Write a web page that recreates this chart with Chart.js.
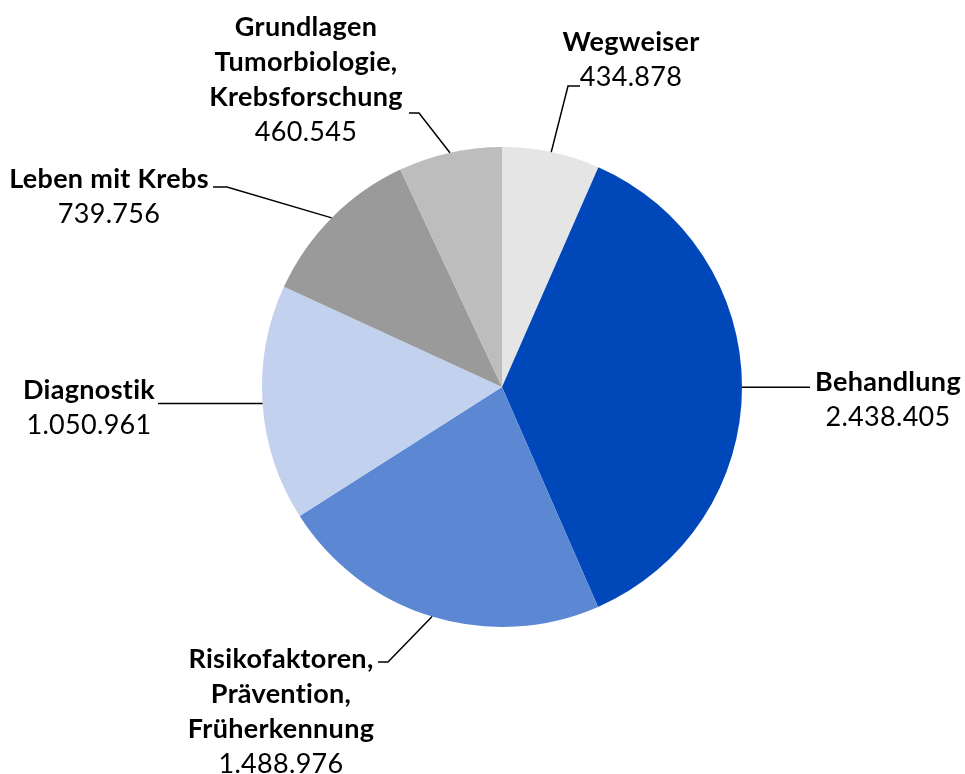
<!DOCTYPE html>
<html>
<head>
<meta charset="utf-8">
<script src="https://cdn.jsdelivr.net/npm/chart.js@4"></script>
<style>
  html, body { margin: 0; padding: 0; background: #fff; }
  #wrap { width: 965px; height: 774px; }
</style>
</head>
<body>
<div id="wrap"><canvas id="myChart" width="965" height="774"></canvas></div>
<script>
// data
const categories = ["Wegweiser", "Behandlung", "Risikofaktoren, Prävention, Früherkennung", "Diagnostik", "Leben mit Krebs", "Grundlagen Tumorbiologie, Krebsforschung"];
const nameLines = [["Wegweiser"], ["Behandlung"], ["Risikofaktoren,", "Prävention,", "Früherkennung"], ["Diagnostik"], ["Leben mit Krebs"], ["Grundlagen", "Tumorbiologie,", "Krebsforschung"]];
const values = [434878, 2438405, 1488976, 1050961, 739756, 460545];
const colors = ["#e5e5e5", "#0047ba", "#5b87d3", "#c1d1ee", "#9a9a9a", "#bdbdbd"];

// label placement (text centre x, first baseline y, leader elbow and end)
const labelPos = [
    { x: 631, y: 51, elbow: [568, 86], end: [580, 86] },
    { x: 888, y: 391, elbow: null, end: [810, 387] },
    { x: 281, y: 668, elbow: [388, 662], end: [378, 662] },
    { x: 89, y: 399, elbow: null, end: [158, 404] },
    { x: 109, y: 188, elbow: [227, 187], end: [213, 187] },
    { x: 306, y: 36, elbow: [419, 113], end: [409, 113] }
];

const fontFamily = "Lato, 'Liberation Sans', sans-serif";
const lineGap = 35;

function fmt(v) {
    return v.toString().replace(/\B(?=(\d{3})+(?!\d))/g, ".");
}

const leaderLabels = {
    id: "leaderLabels",
    afterDraw(chart) {
        const ctx = chart.ctx;
        const arcs = chart.getDatasetMeta(0).data;
        ctx.save();
        arcs.forEach((arc, i) => {
            const p = labelPos[i];
            const mid = (arc.startAngle + arc.endAngle) / 2;
            const sx = arc.x + Math.cos(mid) * arc.outerRadius;
            const sy = arc.y + Math.sin(mid) * arc.outerRadius;
            ctx.strokeStyle = "#000";
            ctx.lineWidth = 1.5;
            ctx.beginPath();
            ctx.moveTo(sx, sy);
            if (p.elbow) ctx.lineTo(p.elbow[0], p.elbow[1]);
            else ctx.lineTo(p.end[0], sy);
            if (p.elbow) ctx.lineTo(p.end[0], p.end[1]);
            ctx.stroke();

            ctx.fillStyle = "#000";
            ctx.textAlign = "center";
            ctx.textBaseline = "alphabetic";
            ctx.letterSpacing = "0.3px";
            let y = p.y;
            ctx.font = "bold 27px " + fontFamily;
            nameLines[i].forEach(line => {
                ctx.fillText(line, p.x, y);
                y += lineGap;
            });
            ctx.font = "27px " + fontFamily;
            ctx.fillText(fmt(values[i]), p.x, y);
        });
        ctx.restore();
    }
};

let ctx = document.getElementById("myChart").getContext("2d");
let myChart = new Chart(ctx, {
    type: "pie",
    data: {
        labels: categories,
        datasets: [{
            data: values,
            backgroundColor: colors,
            borderWidth: 0
        }]
    },
    options: {
        responsive: false,
        animation: false,
        layout: { padding: { top: 147, bottom: 147, left: 39, right: 0 } },
        plugins: {
            legend: { display: false },
            tooltip: { enabled: false }
        }
    },
    plugins: [leaderLabels]
});
</script>
</body>
</html>
